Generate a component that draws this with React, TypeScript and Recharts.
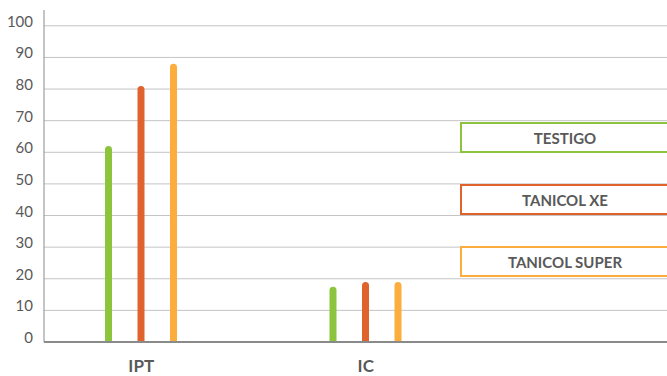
import React from 'react';
import { BarChart, Bar, XAxis, YAxis, CartesianGrid, Legend } from 'recharts';

const categories = ['IPT', 'IC'];
const testigo = [62, 17.5];
const tanicolXe = [81, 19];
const tanicolSuper = [88, 19];
const yTicks = [0, 10, 20, 30, 40, 50, 60, 70, 80, 90, 100];

const seriesKeys = ['testigo', 'tanicolXe', 'tanicolSuper'];
const seriesNames = ['TESTIGO', 'TANICOL XE', 'TANICOL SUPER'];
const seriesColors = ['#8cc43e', '#e0622c', '#fbae3e'];

const data = categories.map((name, i) => ({
  name,
  testigo: testigo[i],
  tanicolXe: tanicolXe[i],
  tanicolSuper: tanicolSuper[i],
}));

const YTick = ({ x, y, payload }: any) => (
  <text x={x} y={y + 1} textAnchor="end" fill="#595959" fontSize={15} fontFamily="Lato">
    {payload.value}
  </text>
);

const LegendBoxes = () => (
  <div>
    {seriesNames.map((n, i) => (
      <div
        key={n}
        style={{
          boxSizing: 'border-box',
          width: 210,
          height: 31,
          marginBottom: 31,
          border: `2px solid ${seriesColors[i]}`,
          background: '#fff',
          display: 'flex',
          alignItems: 'center',
          justifyContent: 'center',
          fontFamily: 'Lato',
          fontWeight: 700,
          fontSize: 15,
          color: '#595959',
        }}
      >
        {n}
      </div>
    ))}
  </div>
);

export default function App() {
  return (
    <div style={{ position: 'absolute', left: 0, top: 0, width: 667, height: 376, overflow: 'hidden', background: '#fff' }}>
      <BarChart
        width={667}
        height={376}
        data={data}
        margin={{ top: 10, right: 0, bottom: 0, left: 0 }}
        barSize={7}
        barGap={25.5}
      >
        <CartesianGrid vertical={false} horizontalValues={yTicks} stroke="#c4c4c4" />
        <XAxis
          dataKey="name"
          height={34}
          padding={{ left: -15, right: 189 }}
          tickLine={false}
          tickMargin={12}
          axisLine={{ stroke: '#8a8a8a', strokeWidth: 2 }}
          tick={{ fill: '#595959', fontSize: 17, fontWeight: 700, fontFamily: 'Lato' }}
        />
        <YAxis
          width={44}
          domain={[0, 105]}
          ticks={yTicks}
          tickLine={false}
          tickMargin={5}
          axisLine={{ stroke: '#8a8a8a' }}
          tick={<YTick />}
        />
        <Legend
          layout="vertical"
          align="center"
          verticalAlign="middle"
          content={<LegendBoxes />}
          wrapperStyle={{ left: 460, top: 122, width: 210 }}
        />
        {seriesKeys.map((k, i) => (
          <Bar
            key={k}
            dataKey={k}
            name={seriesNames[i]}
            fill={seriesColors[i]}
            radius={[3.5, 3.5, 0, 0]}
            isAnimationActive={false}
          />
        ))}
      </BarChart>
    </div>
  );
}
